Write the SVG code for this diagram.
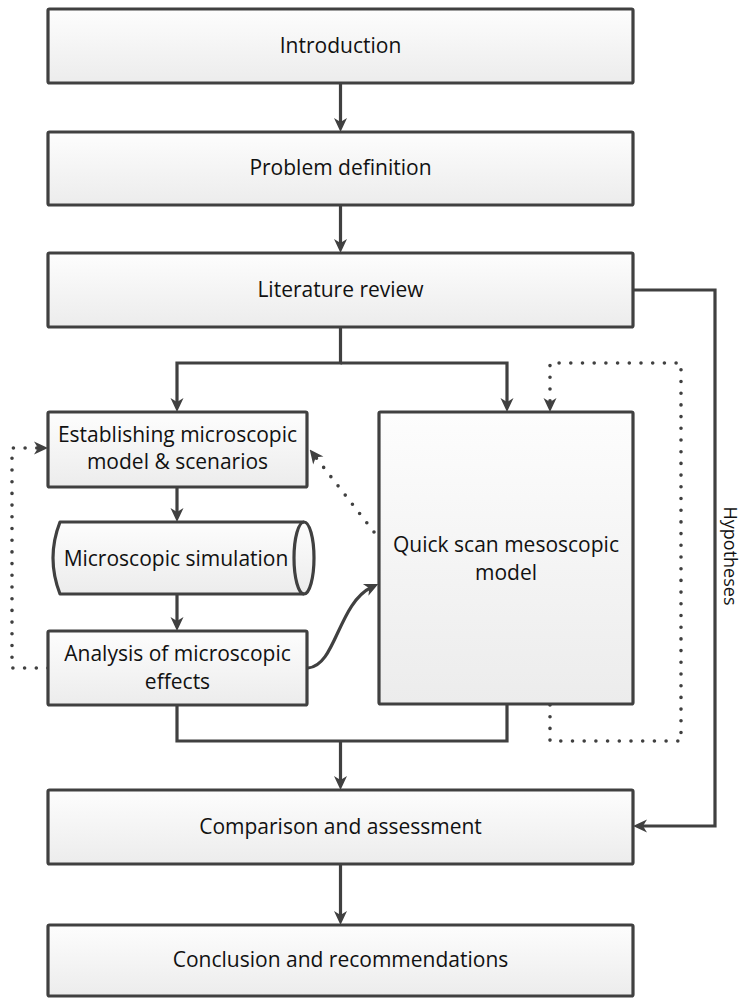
<svg xmlns="http://www.w3.org/2000/svg" width="743" height="998" viewBox="0 0 743 998">
<style>
.box{fill:url(#g);stroke:#404040;stroke-width:3.2;stroke-linejoin:round}
.t{font-family:"Open Sans","Noto Sans","DejaVu Sans",sans-serif;font-size:21px;fill:#111;text-anchor:middle}
.c{fill:none;stroke:#404040;stroke-width:3.2;stroke-linejoin:miter}
.d{fill:none;stroke:#404040;stroke-width:3.6;stroke-linecap:round;stroke-dasharray:0 11.7}
</style>
<defs>
<linearGradient id="g" x1="0" y1="0" x2="0" y2="1">
<stop offset="0" stop-color="#fdfdfd"/>
<stop offset="1" stop-color="#ececec"/>
</linearGradient>
<marker id="a" viewBox="-15 -7 15 14" refX="-7" refY="0" markerWidth="15" markerHeight="14" orient="auto" markerUnits="userSpaceOnUse">
<path d="M0,0 L-14,-6.5 L-10,0 L-14,6.5 Z" fill="#404040"/>
</marker>
</defs>

<g id="connectors">
<path class="c" d="M340.5,83 V125" marker-end="url(#a)"/>
<path class="c" d="M340.5,205 V246" marker-end="url(#a)"/>
<path class="c" d="M340.5,327 V363 H177 V405" marker-end="url(#a)"/>
<path class="c" d="M340.5,363 H507 V405" marker-end="url(#a)"/>
<path class="c" d="M633,290 H715 V826 H640" marker-end="url(#a)"/>
<path class="c" d="M177,487 V515" marker-end="url(#a)"/>
<path class="c" d="M177,595 V624" marker-end="url(#a)"/>
<path class="c" d="M177,705 V741 H507 V705"/>
<path class="c" d="M340.5,741 V783" marker-end="url(#a)"/>
<path class="c" d="M340.5,864 V918" marker-end="url(#a)"/>
<path class="c" d="M308,668 C336,666 338,603 372,587" marker-end="url(#a)"/>
<path class="d" d="M48,668 H12 V448 H41" marker-end="url(#a)"/>
<path class="d" d="M374,532 L314,455" marker-end="url(#a)"/>
<path class="d" d="M550,705 V741 H681 V363 H550 V405" marker-end="url(#a)"/>
</g>

<g id="introduction">
<rect class="box" x="48" y="9" width="585" height="74" rx="1.5"/>
<text class="t" x="340.5" y="53">Introduction</text>
</g>
<g id="problem-definition">
<rect class="box" x="48" y="132" width="585" height="73" rx="1.5"/>
<text class="t" x="340.5" y="175">Problem definition</text>
</g>
<g id="literature-review">
<rect class="box" x="48" y="253" width="585" height="74" rx="1.5"/>
<text class="t" x="340.5" y="297">Literature review</text>
</g>
<g id="establishing">
<rect class="box" x="48" y="412" width="259" height="75" rx="1.5"/>
<text class="t" x="177.5" y="442">Establishing microscopic</text>
<text class="t" x="177.5" y="469">model &amp; scenarios</text>
</g>
<g id="microscopic-simulation">
<path class="box" d="M60,522 H304 A10,36 0 0 1 304,594 H60 Q46,558 60,522 Z"/>
<path class="c" d="M304,522 A10,36 0 0 0 304,594"/>
<text class="t" x="176" y="566">Microscopic simulation</text>
</g>
<g id="analysis">
<rect class="box" x="48" y="631" width="259" height="74" rx="1.5"/>
<text class="t" x="177.5" y="661">Analysis of microscopic</text>
<text class="t" x="177.5" y="689">effects</text>
</g>
<g id="quick-scan">
<rect class="box" x="379" y="412" width="254" height="292" rx="1.5"/>
<text class="t" x="506" y="552">Quick scan mesoscopic</text>
<text class="t" x="506" y="580">model</text>
</g>
<g id="comparison">
<rect class="box" x="48" y="790" width="585" height="74" rx="1.5"/>
<text class="t" x="340.5" y="834">Comparison and assessment</text>
</g>
<g id="conclusion">
<rect class="box" x="48" y="925" width="585" height="71" rx="1.5"/>
<text class="t" x="340.5" y="967">Conclusion and recommendations</text>
</g>
<g id="hypotheses-label">
<text class="t" transform="translate(723.5,556) rotate(90)" x="0" y="0" style="font-size:18px">Hypotheses</text>
</g>
</svg>
